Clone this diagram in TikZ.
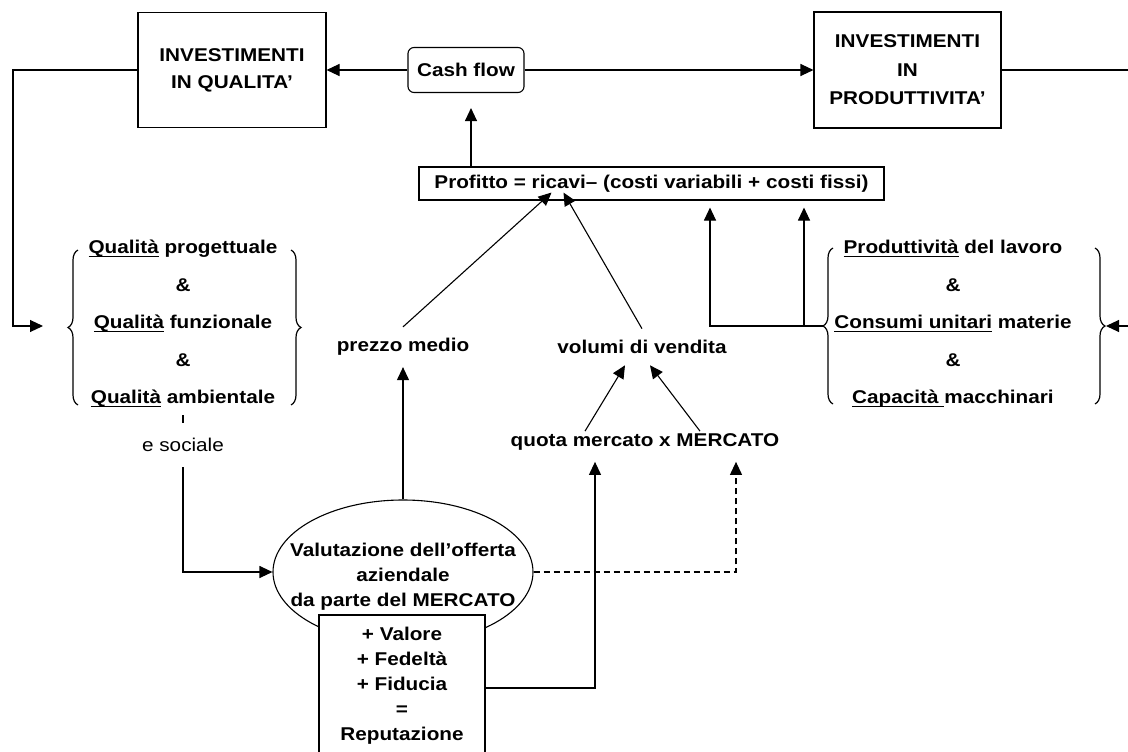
\documentclass[tikz,border=0pt]{standalone}
\usepackage{fontspec}
\setmainfont{Liberation Sans}[FakeStretch=1.12]
\newcommand{\myul}[1]{\setbox0\hbox{#1}\rlap{\rule[-3.2pt]{\wd0}{1.5pt}}\box0\relax}
\usetikzlibrary{arrows.meta,shapes.geometric,decorations.pathreplacing}
\begin{document}
\begin{tikzpicture}[x=1pt,y=-1pt,
  every node/.style={font=\bfseries\fontsize{18.5}{22}\selectfont},
  ln/.style={line width=1.1pt},
  arr/.style={ln,-{Triangle[length=13pt,width=12pt]}},
  boxnode/.style={draw,line width=1.1pt,align=center,inner sep=0pt},
  lbl/.style={inner xsep=2pt,inner ysep=11.3pt},
  brc/.style={decorate,decoration={brace,amplitude=10pt},line width=1.2pt}
]
\useasboundingbox (0,0) rectangle (1128,752);

% top row
\node[boxnode,minimum width=188pt,minimum height=115pt,
  font=\bfseries\fontsize{18.5}{27}\selectfont] (iq) at (232,70) {INVESTIMENTI\\IN QUALITA’};
\node[boxnode,minimum width=187pt,minimum height=116pt,
  font=\bfseries\fontsize{18.5}{28.5}\selectfont] (ip) at (907.5,70) {INVESTIMENTI\\IN\\PRODUTTIVITA’};
\node[boxnode,rounded corners=6pt,minimum width=116pt,minimum height=45pt] (cf) at (466,70) {Cash flow};

% profit
\node[boxnode,minimum width=465pt,minimum height=33pt] (pr) at (651.5,183.5)
  {Profitto = ricavi\textendash\ (costi variabili + costi fissi)};

% left group
\node[align=center,inner sep=0pt,font=\bfseries\fontsize{18.5}{37.5}\selectfont] (qg) at (183,324)
  {\myul{Qualità} progettuale\\ \&\\ \myul{Qualità} funzionale\\ \&\\ \myul{Qualità} ambientale};
\draw[brc] (78,405) -- (78,250);
\draw[brc] (291,250) -- (291,405);
\coordinate (qin) at (43,326);
\coordinate (qs) at (183,415);

% right group
\node[align=center,inner sep=0pt,font=\bfseries\fontsize{18.5}{37.5}\selectfont] (rg) at (953,324)
  {\myul{Produttività} del lavoro\\ \&\\ \myul{Consumi unitari} materie\\ \&\\ \myul{Capacità\ }macchinari};
\draw[brc] (833,404) -- (833,248);
\draw[brc] (1095,248) -- (1095,404);
\coordinate (rin) at (1106,326);
\coordinate (rgl) at (823,326);
\coordinate (ra) at (710,326);
\coordinate (rb) at (804,326);

% middle labels
\node[lbl] (prezzo) at (403,347) {prezzo medio};
\node[lbl] (volumi) at (642,347) {volumi di vendita};
\node[lbl] (quota) at (645,442) {quota mercato x MERCATO};
\node[font=\mdseries\fontsize{18.5}{22}\selectfont,inner sep=0pt,minimum height=44pt] (es) at (183,445) {e sociale};

% ellipse and reputation box
\node[draw,ellipse,ln,minimum width=260pt,minimum height=144pt,inner sep=0pt] (val) at (403,572) {};
\node[align=center,inner sep=0pt,font=\bfseries\fontsize{18.5}{25}\selectfont] (valt) at (403,577)
  {Valutazione dell’offerta\\aziendale\\da parte del MERCATO};
\node[boxnode,fill=white,minimum width=166pt,minimum height=141pt,
  font=\bfseries\fontsize{18.5}{25}\selectfont] (rep) at (402,685.5)
  {+ Valore\\+ Fedeltà\\+ Fiducia\\=\\Reputazione};

% connectors
\draw[arr] (iq.west) -| (13,326) -- (qin);
\draw[arr] (cf.west) -- (iq.east);
\draw[arr] (cf.east) -- (ip.west);
\draw[arr] (ip.east) -| (1129,326) -- (rin);
\draw[arr,shorten >=15pt] ([xshift=5pt]cf.south |- pr.north) -- ([xshift=5pt]cf.south);

\draw[arr,shorten >=7pt] (rgl) -- (ra) -- (ra |- pr.south);
\draw[arr,shorten >=7pt] (rb) -- (rb |- pr.south);

\draw[arr] (prezzo.north) -- ([xshift=-100pt,yshift=8pt]pr.south);
\draw[arr] (volumi.north) -- ([xshift=-88pt,yshift=8pt]pr.south);
\draw[arr] ([xshift=-60pt,yshift=-9pt]quota.north) -- ([xshift=-17pt]volumi.south);
\draw[arr] ([xshift=55pt,yshift=-9pt]quota.north) -- ([xshift=8pt]volumi.south);

\draw[ln] (qs) -- (es.north);
\draw[arr] (es.south) |- (val.west);
\draw[arr] (val.north) -- (prezzo.south);
\draw[arr] ([yshift=-2.5pt]rep.east) -| ([xshift=-50pt]quota.south);
\draw[arr,dash pattern=on 6pt off 4pt] (val.east) -| ([xshift=91pt]quota.south);
\end{tikzpicture}
\end{document}
